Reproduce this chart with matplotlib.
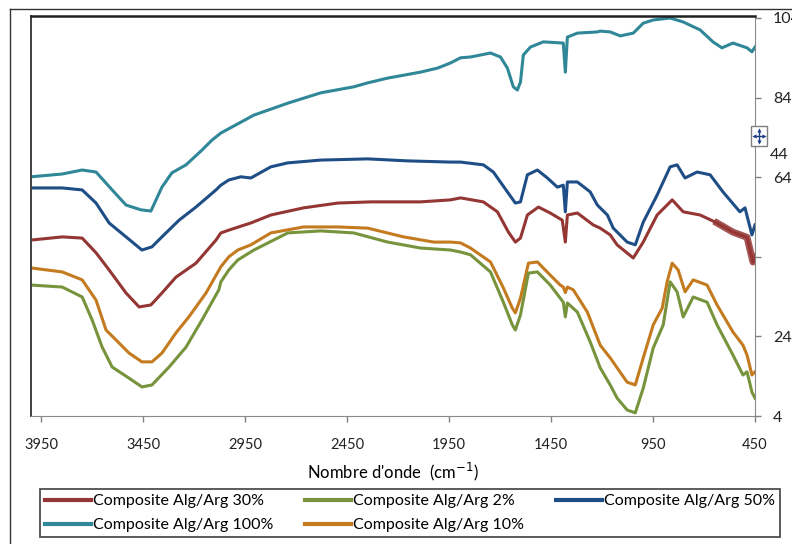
import matplotlib
matplotlib.use('Agg')
import matplotlib.pyplot as plt
from matplotlib.lines import Line2D
from matplotlib.patches import Rectangle

plt.rcParams['font.family'] = ['Lato', 'DejaVu Sans']

# FTIR spectra, transmittance vs wavenumber
wn_100 = [4000, 3847, 3749, 3681, 3602, 3534, 3461, 3412, 3358, 3309, 3240, 3162, 3113, 3069,
          2907, 2741, 2579, 2418, 2349, 2251, 2090, 2007, 1943, 1894, 1845, 1747, 1698, 1664,
          1635, 1615, 1600, 1586, 1551, 1488, 1390, 1380, 1370, 1321, 1223, 1209, 1160, 1111,
          1047, 998, 949, 866, 802, 719, 656, 612, 558, 489, 465, 450]
t_100 = [64.1, 64.8, 65.8, 65.3, 60.8, 57.0, 55.8, 55.5, 61.5, 65.1, 67.1, 70.8, 73.3, 75.1,
         79.6, 82.6, 85.2, 86.7, 87.7, 88.9, 90.4, 91.4, 92.7, 94.0, 94.2, 95.2, 94.2, 91.4,
         86.7, 85.9, 87.9, 94.7, 96.7, 98.0, 97.7, 90.4, 99.2, 100.2, 100.5, 100.7, 100.5, 99.5,
         100.2, 102.7, 103.5, 104.0, 103.0, 101.0, 98.0, 96.5, 97.7, 96.5, 95.5, 96.7]

wn_50 = [4000, 3847, 3749, 3681, 3617, 3534, 3456, 3407, 3358, 3274, 3191, 3093, 3069, 3030,
         2971, 2922, 2824, 2741, 2579, 2349, 2154, 1943, 1894, 1782, 1733, 1664, 1625, 1600,
         1566, 1517, 1468, 1419, 1390, 1380, 1370, 1321, 1258, 1223, 1174, 1145, 1077, 1037,
         998, 930, 866, 832, 793, 734, 670, 607, 524, 499, 465, 450]
t_50 = [61.3, 61.3, 60.8, 57.5, 52.5, 49.0, 45.7, 46.5, 49.0, 53.2, 56.5, 60.8, 62.0, 63.3,
        64.1, 63.8, 66.6, 67.6, 68.3, 68.6, 68.1, 67.8, 67.8, 67.1, 65.3, 60.3, 57.5, 57.8,
        64.6, 65.8, 63.8, 61.5, 62.0, 55.3, 62.8, 62.8, 60.3, 57.0, 54.5, 51.2, 47.7, 47.0,
        52.7, 59.5, 66.6, 67.1, 63.8, 65.3, 64.6, 60.3, 55.3, 56.3, 49.5, 52.0]

wn_30 = [4000, 3847, 3749, 3681, 3617, 3534, 3470, 3412, 3358, 3289, 3191, 3093, 3069, 3030,
         2922, 2824, 2663, 2496, 2335, 2090, 1943, 1894, 1782, 1713, 1659, 1625, 1600, 1566,
         1512, 1454, 1395, 1380, 1370, 1321, 1243, 1209, 1160, 1126, 1047, 998, 930, 856,
         802, 719, 636, 558, 489, 460, 450]
t_30 = [48.2, 49.0, 48.7, 45.0, 40.7, 34.9, 31.4, 31.9, 34.9, 38.9, 42.4, 48.2, 50.0, 50.7,
        52.5, 54.5, 56.3, 57.5, 57.8, 57.8, 58.3, 58.8, 57.8, 55.3, 50.2, 47.7, 48.7, 54.5,
        56.5, 55.0, 53.2, 47.7, 54.5, 55.0, 52.0, 51.2, 49.5, 47.0, 43.7, 47.7, 54.5, 58.3,
        55.3, 54.5, 52.5, 50.2, 48.9, 42.7, 44.0]

wn_10 = [4000, 3847, 3749, 3681, 3632, 3583, 3519, 3456, 3407, 3358, 3289, 3226, 3142, 3069,
         3030, 2986, 2922, 2824, 2663, 2496, 2349, 2173, 2026, 1943, 1894, 1845, 1747, 1684,
         1640, 1625, 1600, 1561, 1517, 1454, 1405, 1390, 1380, 1370, 1341, 1272, 1209, 1160,
         1126, 1077, 1037, 998, 949, 905, 881, 856, 827, 793, 753, 685, 636, 558, 509, 489,
         465, 450]
t_10 = [41.2, 40.2, 38.2, 33.1, 25.6, 23.1, 19.8, 17.6, 17.6, 19.8, 24.9, 28.9, 34.9, 41.5,
        44.0, 45.7, 47.0, 50.0, 51.5, 51.5, 51.2, 49.0, 47.7, 47.7, 47.5, 46.2, 42.7, 36.2,
        31.1, 29.9, 33.6, 42.4, 42.7, 39.4, 36.9, 36.4, 35.0, 36.4, 35.7, 30.1, 21.8, 18.6,
        16.1, 12.5, 11.8, 18.6, 26.9, 31.1, 37.7, 42.4, 40.7, 35.2, 38.2, 36.9, 31.9, 25.1,
        21.8, 19.3, 14.3, 15.1]

wn_2 = [4000, 3847, 3749, 3700, 3651, 3602, 3519, 3456, 3407, 3323, 3240, 3162, 3079, 3069,
        3030, 2986, 2907, 2741, 2579, 2418, 2251, 2090, 1943, 1894, 1845, 1747, 1684, 1640,
        1625, 1600, 1561, 1517, 1454, 1390, 1380, 1370, 1321, 1258, 1209, 1160, 1126, 1077,
        1037, 998, 949, 900, 866, 832, 802, 753, 685, 636, 558, 509, 489, 465, 450]
t_2 = [36.9, 36.4, 33.9, 28.1, 21.3, 16.3, 13.5, 11.3, 11.8, 16.3, 21.3, 28.1, 35.7, 37.7,
       40.7, 43.2, 45.7, 50.0, 50.5, 50.0, 47.7, 46.2, 45.7, 45.2, 44.5, 40.2, 32.6, 26.9,
       25.6, 29.4, 39.9, 40.2, 36.9, 32.6, 28.9, 32.4, 30.1, 22.6, 16.1, 11.8, 8.5, 5.5,
       4.8, 11.0, 21.1, 26.9, 37.7, 35.2, 28.9, 33.9, 32.6, 26.9, 19.3, 14.3, 15.1, 10.0, 8.5]

labels = ['Composite Alg/Arg 30%', 'Composite Alg/Arg 2%', 'Composite Alg/Arg 50%',
          'Composite Alg/Arg 100%', 'Composite Alg/Arg 10%']
colors = {'30': '#943634', '2': '#77933C', '50': '#1F4E87', '100': '#2F8797', '10': '#C47A1E'}

xticks = [3950, 3450, 2950, 2450, 1950, 1450, 950, 450]
yticks = [4, 24, 44, 64, 84, 104]

fig = plt.figure(figsize=(7.92, 5.44), dpi=100)
ax = fig.add_axes([31 / 792, 1 - 416 / 544, 724 / 792, 400 / 544])

lw = 2.2
ax.plot(wn_100, t_100, color=colors['100'], lw=lw)
ax.plot(wn_50, t_50, color=colors['50'], lw=lw)
ax.plot(wn_30, t_30, color=colors['30'], lw=lw)
# noisy band at the low-wavenumber end of the 30% spectrum
tail = [i for i, w in enumerate(wn_30) if w <= 640]
ax.plot([wn_30[i] for i in tail], [t_30[i] for i in tail], color=colors['30'], lw=5, alpha=0.85)
ax.plot(wn_10, t_10, color=colors['10'], lw=lw)
ax.plot(wn_2, t_2, color=colors['2'], lw=lw)

ax.set_xlim(4000, 450)
ax.set_ylim(4, 104.5)
ax.set_xticks(xticks)
ax.set_xticklabels([str(v) for v in xticks], fontsize=10.5, color='#222222')
ax.yaxis.tick_right()
ax.set_yticks(yticks)
ax.set_yticklabels(['4', '24', '', '64', '84', '104'], fontsize=11.5, color='#222222')
ax.tick_params(axis='x', length=4, width=1, color='#808080', pad=12)
ax.tick_params(axis='y', length=4, width=1, color='#808080', pad=9)

ax.spines['top'].set_color('#202020')
ax.spines['top'].set_linewidth(1.8)
ax.spines['left'].set_color('#404040')
ax.spines['left'].set_linewidth(1.4)
ax.spines['right'].set_color('#8a8a8a')
ax.spines['bottom'].set_color('#8a8a8a')

ax.set_xlabel("Nombre d'onde  (cm$^{-1}$)", fontsize=12, labelpad=6)

# displaced "44" label and the move handle next to it
fig.text(770 / 792, 1 - 155 / 544, '44', fontsize=11.5, color='#222222', va='center', ha='left')
fig.add_artist(Rectangle((751 / 792, 1 - 146 / 544), 16 / 792, 20 / 544,
                         transform=fig.transFigure, fill=True, facecolor='white',
                         edgecolor='#7f7f7f', lw=1))
cx, cy = 759 / 792, 1 - 136 / 544
hx, hy = 5 / 792, 6 / 544
navy = '#1F3C88'
fig.add_artist(Line2D([cx - hx, cx + hx], [cy, cy], transform=fig.transFigure, color=navy, lw=1))
fig.add_artist(Line2D([cx, cx], [cy - hy, cy + hy], transform=fig.transFigure, color=navy, lw=1))
for px, py, mk in [(cx - hx, cy, '<'), (cx + hx, cy, '>'), (cx, cy + hy, '^'), (cx, cy - hy, 'v')]:
    fig.add_artist(Line2D([px], [py], transform=fig.transFigure, marker=mk, markersize=3,
                          color=navy, markeredgewidth=0))

# outer frame (left and top edges)
fig.add_artist(Line2D([10 / 792, 10 / 792], [0, 1 - 9 / 544], transform=fig.transFigure,
                      color='#333333', lw=1))
fig.add_artist(Line2D([10 / 792, 1], [1 - 9 / 544, 1 - 9 / 544], transform=fig.transFigure,
                      color='#333333', lw=1))

# legend laid out row by row
order = [0, 3, 1, 4, 2]
handles = [Line2D([], [], color=colors[k], lw=3) for k in ['30', '2', '50', '100', '10']]
leg = fig.legend([handles[i] for i in order], [labels[i] for i in order],
                 loc='lower left', bbox_to_anchor=(40 / 792, 1 - 537 / 544, 740 / 792, 49 / 544),
                 mode='expand', ncol=3, fontsize=11.5, frameon=True, fancybox=False,
                 edgecolor='#222222', handlelength=2.9, handletextpad=0.12, borderpad=0.3,
                 labelspacing=0.6, borderaxespad=0)
leg.get_frame().set_linewidth(1.3)

fig.savefig('out.png', dpi=100)
